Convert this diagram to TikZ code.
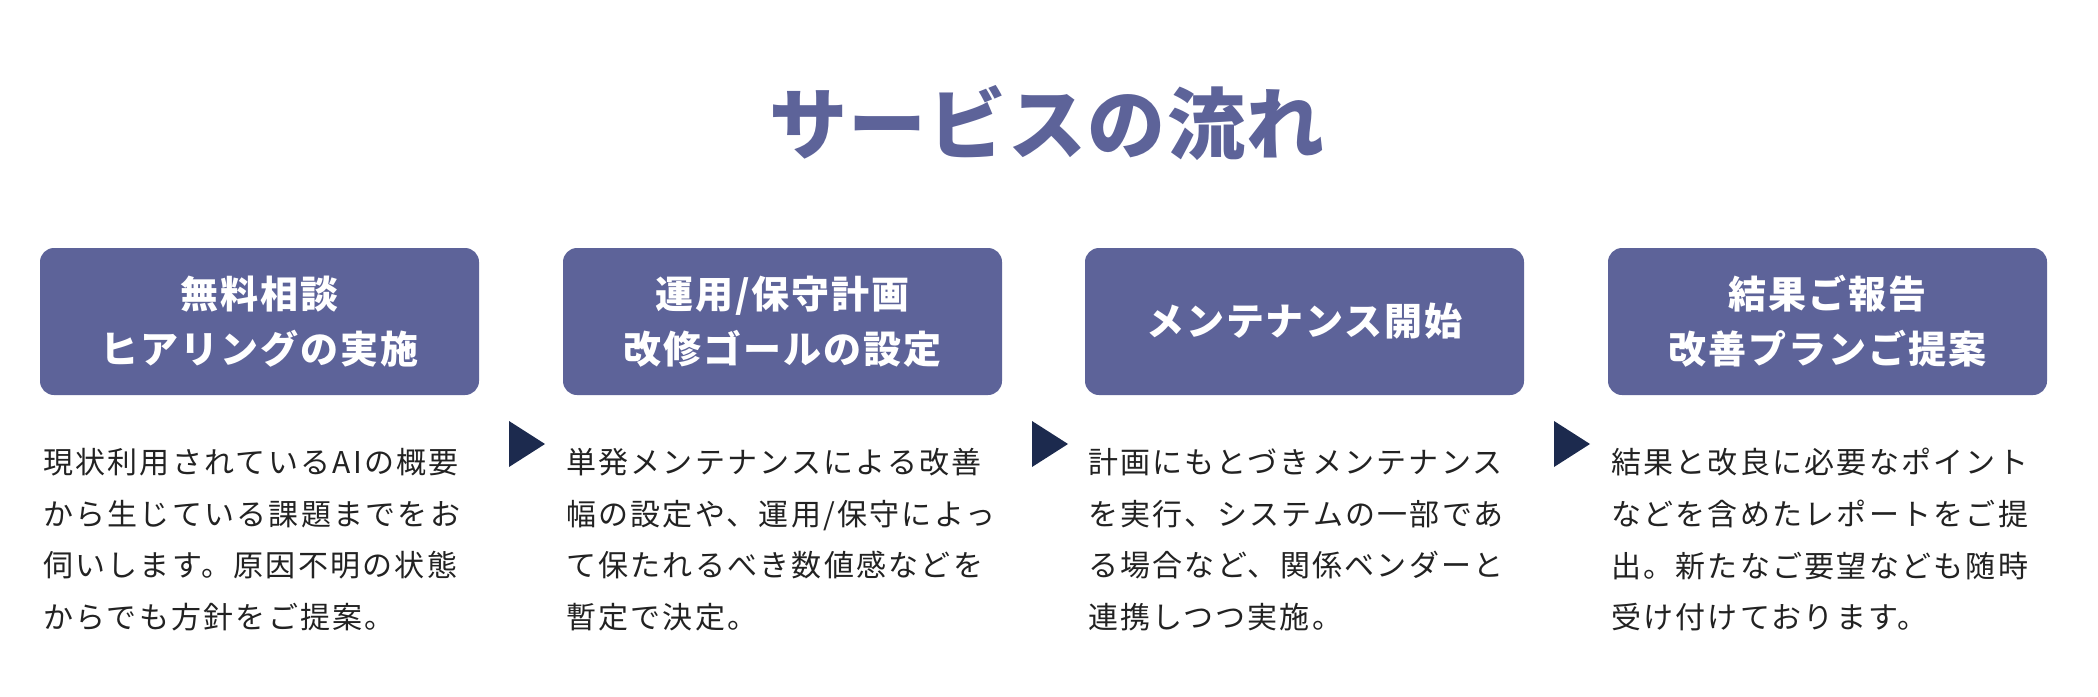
\documentclass[tikz,border=0pt]{standalone}
\usepackage{fontspec}
\setmainfont{Noto Sans CJK JP}
\definecolor{main}{HTML}{5D6399}
\definecolor{arrowc}{HTML}{1C2A4E}
\definecolor{bodyc}{HTML}{222222}
\begin{document}
\begin{tikzpicture}[x=1pt,y=-1pt,
  stepbox/.style={fill=main, rounded corners=14pt, minimum width=439pt, minimum height=147pt,
    inner sep=0pt, text=white, align=center,
    font=\fontsize{38}{55}\selectfont\bfseries\addfontfeature{LetterSpace=5}},
  body/.style={anchor=north west, inner sep=0pt, align=left, text=bodyc,
    font=\fontsize{30}{51.7}\selectfont\addfontfeature{LetterSpace=7.5}},
  tri/.style={fill=arrowc}]
\useasboundingbox (0,0) rectangle (2098,696);
\node[text=main, inner sep=0pt, font=\fontsize{78}{90}\selectfont\bfseries\addfontfeature{LetterSpace=2}] (title) at (1047,123) {サービスの流れ};

\node[stepbox] (b1) at (259.5,321.5) {無料相談\\ヒアリングの実施};
\node[stepbox] (b2) at (782.5,321.5) {運用/保守計画\\改修ゴールの設定};
\node[stepbox] (b3) at (1304.5,321.5) {メンテナンス開始};
\node[stepbox] (b4) at (1827.5,321.5) {結果ご報告\\改善プランご提案};

\node[body] (t1) at (43,448) {現状利用されているAIの概要\\から生じている課題までをお\\伺いします。原因不明の状態\\からでも方針をご提案。};
\node[body] (t2) at (566,448) {単発メンテナンスによる改善\\幅の設定や、運用/保守によっ\\て保たれるべき数値感などを\\暫定で決定。};
\node[body] (t3) at (1088,448) {計画にもとづきメンテナンス\\を実行、システムの一部であ\\る場合など、関係ベンダーと\\連携しつつ実施。};
\node[body] (t4) at (1611,448) {結果と改良に必要なポイント\\などを含めたレポートをご提\\出。新たなご要望なども随時\\受け付けております。};

\fill[tri] (509,421) -- (545,444) -- (509,467) -- cycle;
\fill[tri] (1032,421) -- (1068,444) -- (1032,467) -- cycle;
\fill[tri] (1554,421) -- (1590,444) -- (1554,467) -- cycle;
\end{tikzpicture}
\end{document}
